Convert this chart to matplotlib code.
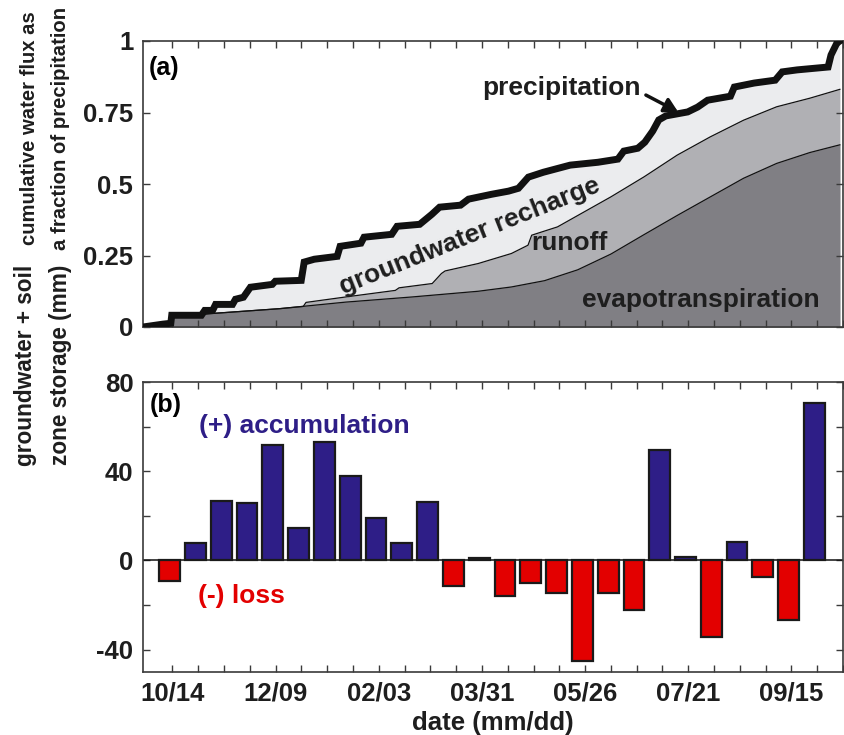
import numpy as np
import matplotlib
matplotlib.use("Agg")
import matplotlib.pyplot as plt

plt.rcParams['font.family'] = ['Liberation Sans', 'DejaVu Sans']
plt.rcParams['font.weight'] = 'bold'

# ---------------- data ----------------
# x axis: days since Oct 1
precip_day = [-3, 7.8, 12.1, 12.6, 28.7, 30.5, 34.8, 36.4, 45.6, 47.2, 51.5, 55.3, 67.2, 68.8, 82.9,
              84.5, 90, 102.4, 104, 115.3, 117, 132, 134.9, 147.2, 153.8, 158, 169.4, 173.7, 186.2, 195.4,
              200.8, 206.2, 214.3, 228.9, 244, 254.8, 258, 265.6, 269.4, 273.7, 277, 280.8, 292.7, 298.1,
              303.5, 315.9, 318, 328.8, 340.2, 344, 352.1, 368.9, 370.5, 373.7, 375.3]
precip_frac = [0, 0.01, 0.013, 0.041, 0.041, 0.058, 0.058, 0.079, 0.079, 0.097, 0.104, 0.139, 0.149, 0.16, 0.163,
               0.227, 0.237, 0.247, 0.282, 0.293, 0.314, 0.324, 0.352, 0.359, 0.394, 0.419, 0.426, 0.447, 0.464, 0.475,
               0.485, 0.524, 0.541, 0.566, 0.576, 0.587, 0.615, 0.625, 0.646, 0.685, 0.724, 0.738, 0.752, 0.769,
               0.793, 0.807, 0.839, 0.853, 0.863, 0.892, 0.899, 0.909, 0.951, 0.993, 1.0]

runoff_day = [-3, 7.8, 12.1, 12.6, 34, 71, 84, 85.5, 107, 134, 136, 154, 159, 161, 179, 197, 206, 208,
              222, 251, 269, 287, 305, 323, 341, 359, 375.3]
runoff_frac = [0, 0.01, 0.013, 0.035, 0.047, 0.064, 0.072, 0.086, 0.105, 0.128, 0.137, 0.152, 0.187, 0.196,
               0.222, 0.257, 0.286, 0.321, 0.35, 0.455, 0.525, 0.601, 0.665, 0.723, 0.77, 0.8, 0.831]

et_day = [-3, 7.8, 12.1, 12.6, 34, 71, 107, 143, 179, 197, 215, 233, 251, 269, 287, 305, 323, 341, 359, 375.3]
et_frac = [0, 0.01, 0.013, 0.035, 0.047, 0.064, 0.087, 0.105, 0.125, 0.14, 0.162, 0.2, 0.255, 0.323,
           0.39, 0.455, 0.52, 0.572, 0.61, 0.637]

storage = [-9.3, 7.8, 26.6, 25.9, 51.9, 14.7, 53.2, 37.9, 19.1, 7.7, 26.2, -11.6, 0.9,
           -15.8, -9.9, -14.4, -45.2, -14.7, -22.0, 49.6, 1.7, -34.4, 8.3, -7.2, -26.5, 70.7]
first_bar_day = 11.5
bar_step_days = 14

first_tick_day = 13
tick_labels = ["10/14", "12/09", "02/03", "03/31", "05/26", "07/21", "09/15"]

# ---------------- styles ----------------
c_et = '#807f84'
c_ro = '#b0b0b4'
c_gw = '#ebecee'
c_blue = '#2e1e87'
c_red = '#e30000'
c_txt = '#1e1e1e'
c_spine = '#3a3a3a'
xlim = (-3, 375.3)

fig = plt.figure(figsize=(8.45, 7.35), dpi=100)
W, H = 845, 735
ax1 = fig.add_axes([143 / W, 1 - 327 / H, 700 / W, 286 / H])
ax2 = fig.add_axes([143 / W, 1 - 672 / H, 700 / W, 290 / H])

# ---- panel (a) ----
ax1.fill_between(precip_day, 0, precip_frac, color=c_gw, lw=0)
ax1.fill_between(runoff_day, 0, runoff_frac, color=c_ro, lw=0)
ax1.fill_between(et_day, 0, et_frac, color=c_et, lw=0)
ax1.plot(runoff_day, runoff_frac, color='#111111', lw=0.9)
ax1.plot(et_day, et_frac, color='#111111', lw=0.9)
ax1.plot(precip_day, precip_frac, color='#111111', lw=5, solid_joinstyle='miter', clip_on=True, zorder=5)
ax1.set_xlim(*xlim)
ax1.set_ylim(0, 1)

ax1.text(0.008, 0.905, '(a)', transform=ax1.transAxes, fontsize=18, fontweight='bold',
         color='black', ha='left', va='center')
ax1.text(224, 0.835, 'precipitation', fontsize=19, fontweight='bold', color=c_txt, ha='center', va='center')
ax1.annotate('', xy=(287.5, 0.752), xytext=(270, 0.811),
             arrowprops=dict(arrowstyle='-|>,head_length=0.8,head_width=0.45', color='#111111', lw=2.5,
                             shrinkA=0, shrinkB=0), zorder=6)
ax1.text(174.3, 0.317, 'groundwater recharge', fontsize=19, fontweight='bold', color=c_txt,
         ha='center', va='center', rotation=21.8, rotation_mode='anchor')
ax1.text(228.4, 0.293, 'runoff', fontsize=19, fontweight='bold', color=c_txt, ha='center', va='center')
ax1.text(299.7, 0.093, 'evapotranspiration', fontsize=19, fontweight='bold', color=c_txt,
         ha='center', va='center')

# ---- panel (b) ----
bar_days = first_bar_day + bar_step_days * np.arange(len(storage))
colors = [c_blue if v >= 0 else c_red for v in storage]
ax2.bar(bar_days, storage, width=11.3, color=colors, edgecolor='#1a1a1a', linewidth=1.6, zorder=3)
ax2.axhline(0, color='#111111', lw=1.1, zorder=2)
ax2.set_xlim(*xlim)
ax2.set_ylim(-50, 80)
ax2.text(0.01, 0.92, '(b)', transform=ax2.transAxes, fontsize=18, fontweight='bold',
         color='black', ha='left', va='center')
ax2.text(27.2, 60.4, '(+) accumulation', fontsize=19, fontweight='bold', color=c_blue, ha='left', va='center')
ax2.text(26.7, -15.8, '(-) loss', fontsize=19, fontweight='bold', color=c_red, ha='left', va='center')

# ---- ticks / spines ----
all_ticks = first_tick_day + 14 * np.arange(27)
major_ticks = all_ticks[::4][:len(tick_labels)]
minor_ticks = [t for t in all_ticks if t not in major_ticks]
for ax in (ax1, ax2):
    ax.set_xticks(major_ticks)
    ax.set_xticks(minor_ticks, minor=True)
    for s in ax.spines.values():
        s.set_color(c_spine)
        s.set_linewidth(1.2)
    ax.tick_params(which='both', direction='in', top=True, right=True, length=5, width=1.0,
                   color=c_spine, labelsize=18.5, labelcolor=c_txt)
    ax.tick_params(axis='y', pad=7)
    ax.tick_params(axis='x', pad=7)
    for lab in ax.get_xticklabels() + ax.get_yticklabels():
        lab.set_fontweight('bold')

ax1.set_xticklabels([])
ax1.set_yticks([0, 0.25, 0.5, 0.75, 1])
ax1.set_yticklabels(['0', '0.25', '0.5', '0.75', '1'], fontweight='bold')

ax2.set_xticklabels(tick_labels, fontweight='bold')
ax2.set_yticks([-40, 0, 40, 80])
ax2.set_yticklabels(['-40', '0', '40', '80'], fontweight='bold')
ax2.set_yticks([-20, 20, 60], minor=True)
ax2.set_xlabel('date (mm/dd)', fontsize=18.5, fontweight='bold', color=c_txt, labelpad=4)

fig.text(45 / W, 1 - 128 / H, 'cumulative water flux as\na fraction of precipitation', rotation=90,
         fontsize=14.6, fontweight='bold', color=c_txt, ha='center', va='center', multialignment='center',
         linespacing=1.8)
fig.text(43 / W, 1 - 365 / H, 'groundwater + soil\nzone storage (mm)', rotation=90,
         fontsize=16.3, fontweight='bold', color=c_txt, ha='center', va='center', multialignment='center',
         linespacing=1.65)

fig.savefig('out.png', dpi=100)
